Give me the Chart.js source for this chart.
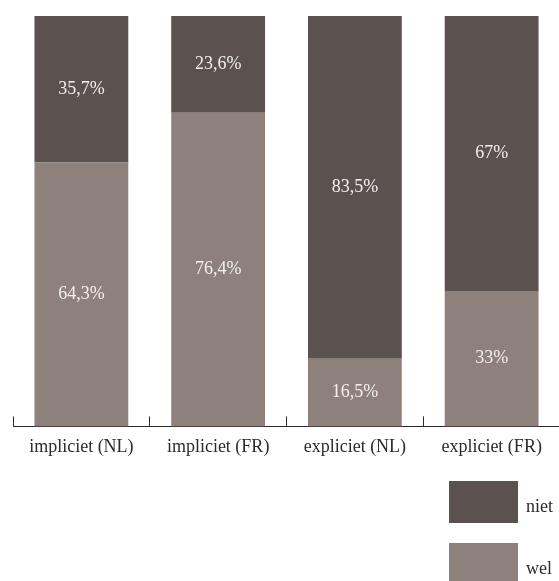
<!DOCTYPE html>
<html>
<head>
<meta charset="utf-8">
<script src="https://cdn.jsdelivr.net/npm/chart.js@4"></script>
<style>
    html, body { margin: 0; padding: 0; background: #fff; overflow: hidden; }
    canvas { display: block; }
</style>
</head>
<body>
<canvas id="chart" width="562" height="581"></canvas>
<script>
const categories = ['impliciet (NL)', 'impliciet (FR)', 'expliciet (NL)', 'expliciet (FR)'];
const welValues = [64.3, 76.4, 16.5, 33];
const nietValues = [35.7, 23.6, 83.5, 67];

const color_wel = '#8e817c';
const color_niet = '#5b514e';
const serif = '"Liberation Serif", "DejaVu Serif", serif';

// percentage inside each bar segment, Dutch decimal comma
const segmentLabels = {
    id: 'segmentLabels',
    afterDatasetsDraw(chart) {
        const { ctx } = chart;
        ctx.save();
        ctx.font = `18px ${serif}`;
        ctx.fillStyle = '#f2f0ef';
        ctx.textAlign = 'center';
        ctx.textBaseline = 'middle';
        chart.data.datasets.forEach((ds, i) => {
            chart.getDatasetMeta(i).data.forEach((bar, j) => {
                const text = `${String(ds.data[j]).replace('.', ',')}%`;
                ctx.fillText(text, bar.x, (bar.y + bar.base) / 2);
            });
        });
        ctx.restore();
    },
};

// stacked legend in the bottom right corner, top series first
const boxLegend = {
    id: 'boxLegend',
    afterDraw(chart) {
        const { ctx } = chart;
        const items = chart.data.datasets.slice().reverse();
        const boxW = 69;
        const boxH = 42;
        const left = 449;
        let top = 481;
        ctx.save();
        ctx.font = `18px ${serif}`;
        ctx.textAlign = 'left';
        ctx.textBaseline = 'middle';
        for (const ds of items) {
            ctx.fillStyle = ds.backgroundColor;
            ctx.fillRect(left, top, boxW, boxH);
            ctx.fillStyle = '#2b2b2b';
            ctx.fillText(ds.label, left + boxW + 8, top + boxH / 2 + 5);
            top += boxH + 20;
        }
        ctx.restore();
    },
};

new Chart(document.getElementById('chart'), {
    type: 'bar',
    data: {
        labels: categories,
        datasets: [
            {
                label: 'wel',
                data: welValues,
                backgroundColor: color_wel,
            },
            {
                label: 'niet',
                data: nietValues,
                backgroundColor: color_niet,
            },
        ],
    },
    options: {
        responsive: false,
        animation: false,
        events: [],
        categoryPercentage: 1,
        barPercentage: 0.686,
        layout: {
            padding: { top: 16, left: 13, right: 1, bottom: 103 },
        },
        plugins: {
            legend: { display: false },
            tooltip: { enabled: false },
        },
        scales: {
            x: {
                stacked: true,
                border: { color: '#2b2b2b', width: 1 },
                grid: {
                    drawOnChartArea: false,
                    offset: true,
                    color: '#2b2b2b',
                    tickLength: -10,
                },
                ticks: {
                    color: '#2b2b2b',
                    font: { family: serif, size: 18 },
                    padding: 20,
                    maxRotation: 0,
                },
            },
            y: {
                stacked: true,
                display: false,
                min: 0,
                max: 100,
            },
        },
    },
    plugins: [segmentLabels, boxLegend],
});
</script>
</body>
</html>
